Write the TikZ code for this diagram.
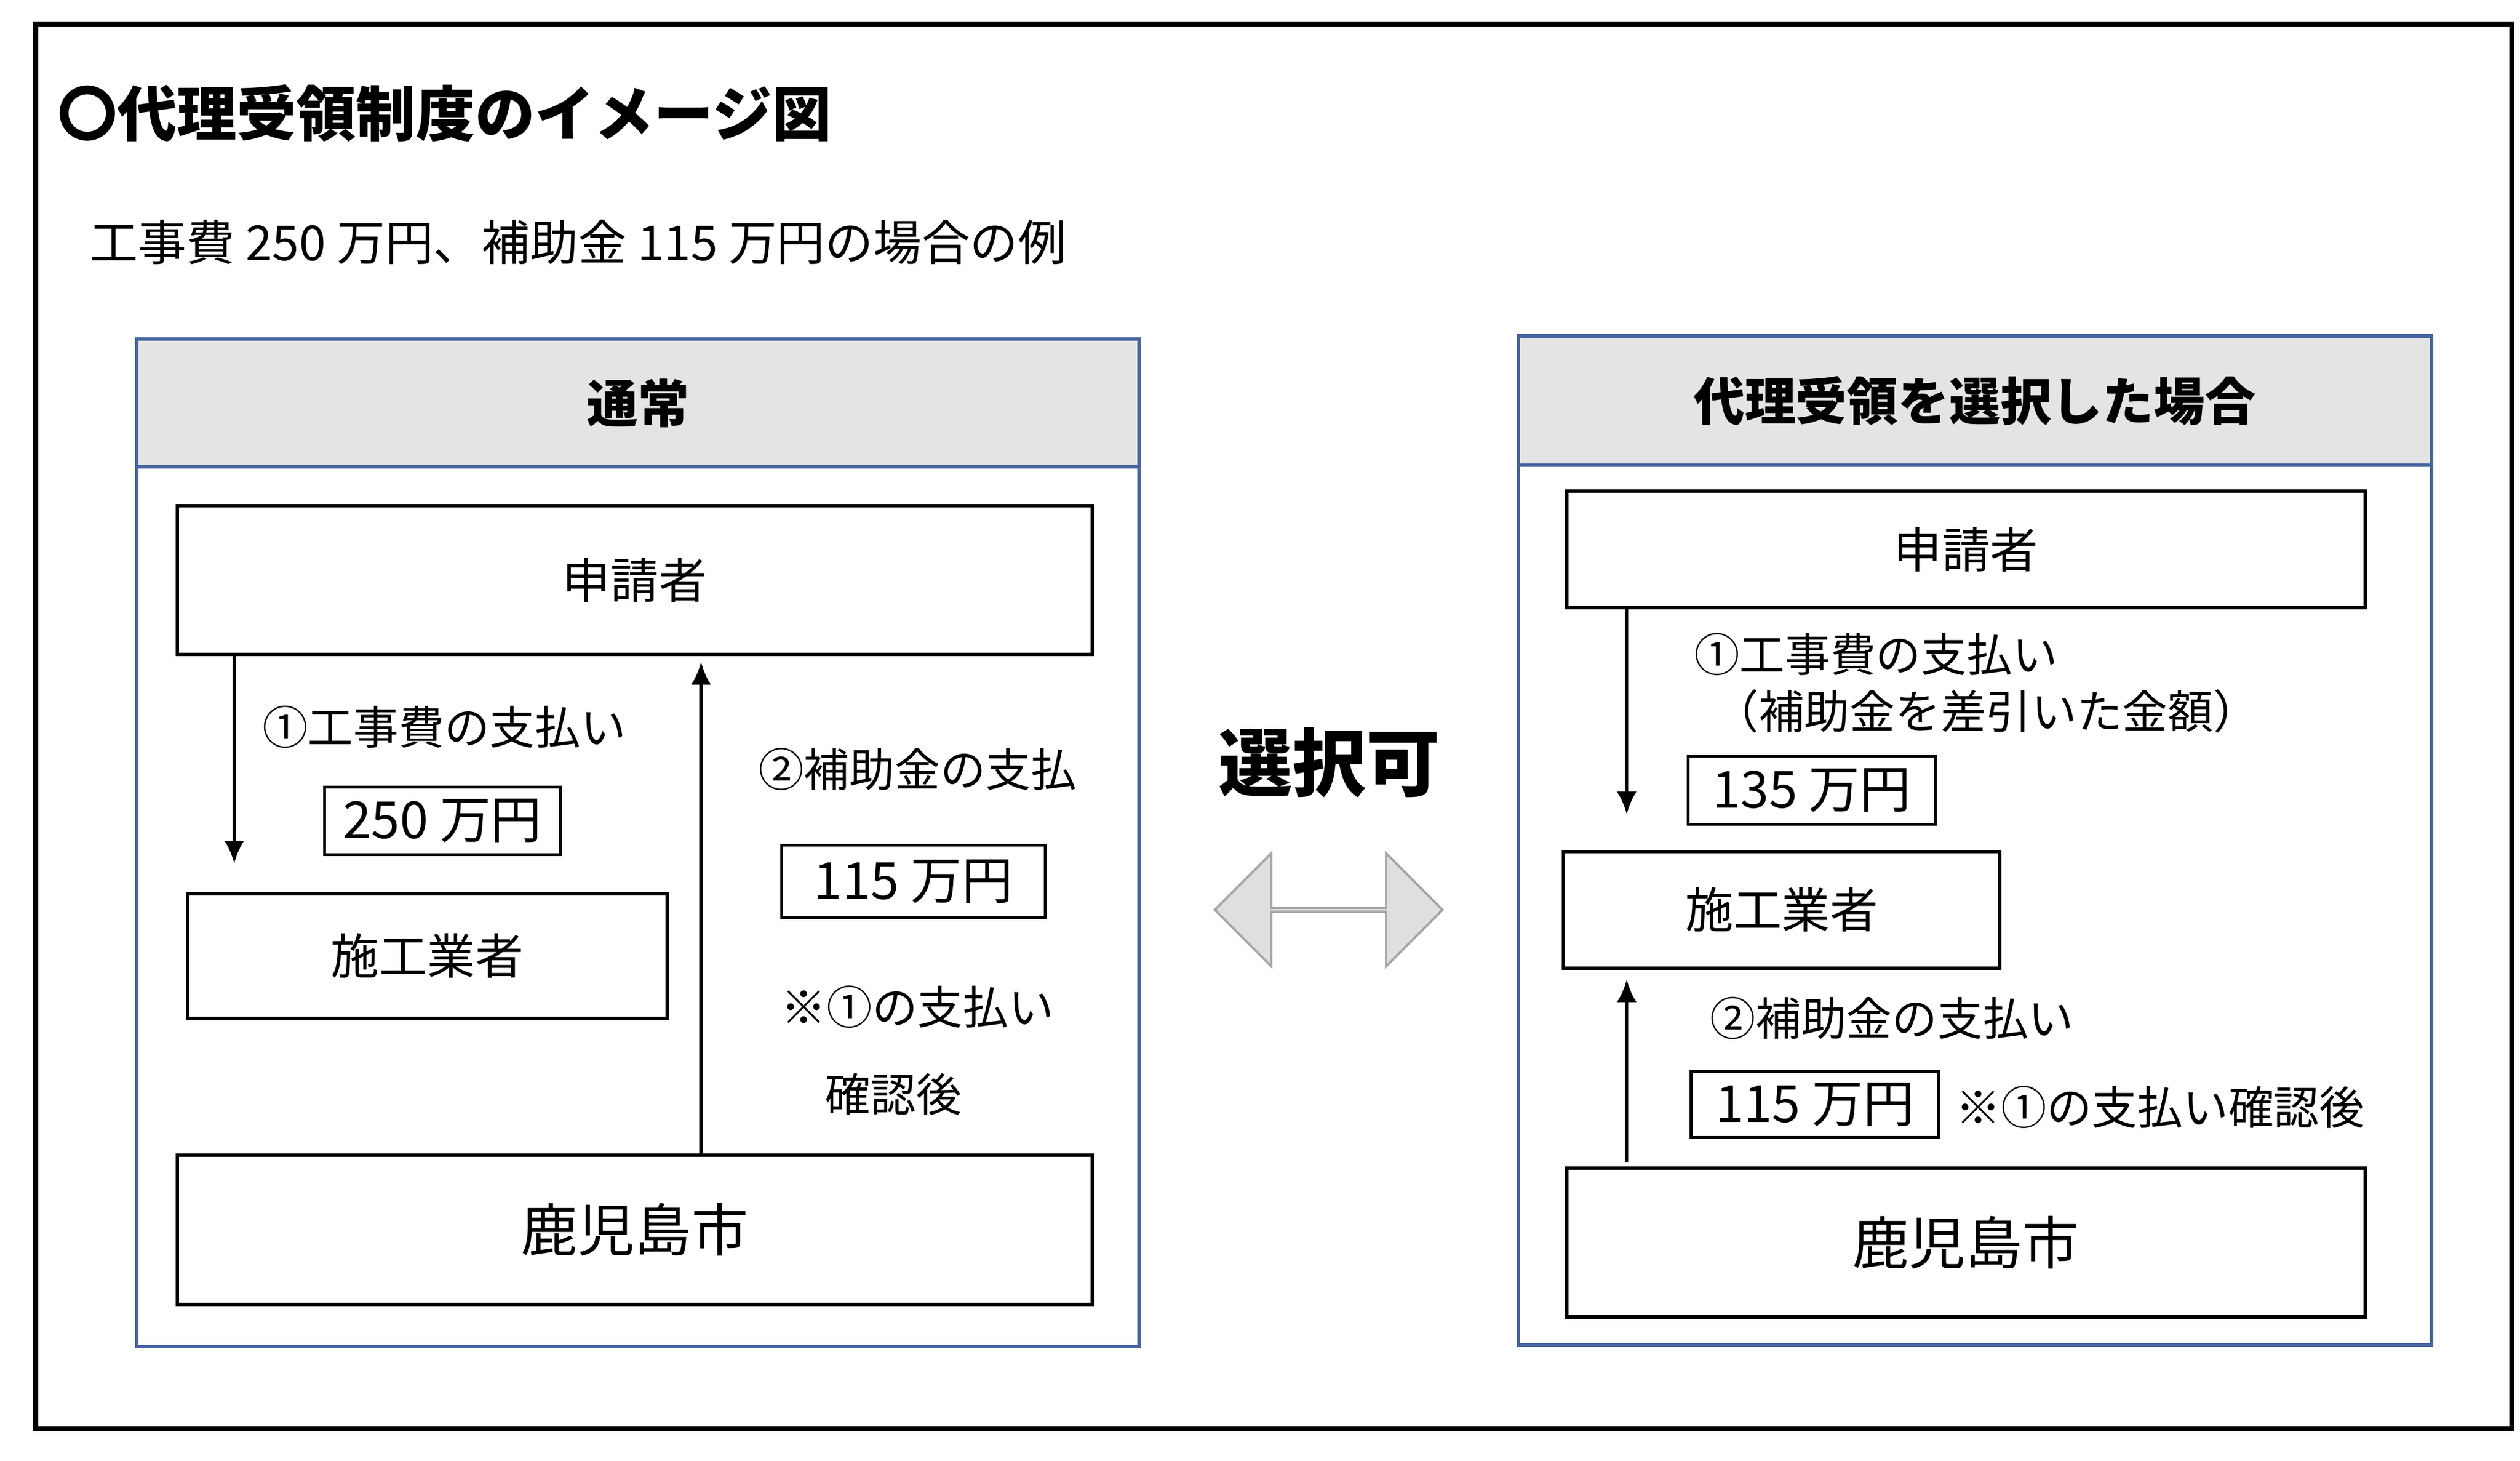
\documentclass[tikz,border=0pt]{standalone}
\usepackage{fontspec}
\setmainfont{Noto Sans CJK JP}
\usetikzlibrary{positioning, arrows.meta, shapes.arrows}
\definecolor{panelblue}{RGB}{70,100,160}
\definecolor{headgray}{RGB}{228,228,228}
\tikzset{
  txt/.style={font=\fontsize{8pt}{10pt}\selectfont, inner sep=0pt},
  box/.style={draw, line width=0.6pt, inner sep=0pt, font=\fontsize{8.5pt}{10pt}\selectfont},
  moneybox/.style={draw, line width=0.5pt, inner sep=0pt, font=\fontsize{9pt}{10pt}\selectfont},
  panel/.style={draw=panelblue, line width=0.6pt, inner sep=0pt},
  head/.style={draw=panelblue, fill=headgray, line width=0.6pt, inner sep=0pt, font=\bfseries\fontsize{9pt}{10pt}\selectfont},
  flow/.style={line width=0.6pt, -{Latex[length=4pt,width=3.5pt]}},
}
\begin{document}
\begin{tikzpicture}[x=0.01cm, y=-0.01cm]
\useasboundingbox (0,0) rectangle (1560,904);
\draw[line width=0.9pt] (22,15) rectangle (1555,884);

\node[anchor=west, font=\bfseries\fontsize{10.5pt}{12pt}\selectfont, inner sep=0pt] at (35,70) (title) {〇代理受領制度のイメージ図};
\node[anchor=west, font=\fontsize{8.5pt}{10pt}\selectfont, inner sep=0pt] at (55,150) (subtitle) {工事費 250 万円、補助金 115 万円の場合の例};

% left: normal
\node[panel, minimum width=6.2cm, minimum height=6.23cm] at (395,521.5) (panel1) {};
\node[head, minimum width=6.2cm, minimum height=0.79cm] at (395,249.5) (head1) {通常};
\node[box, minimum width=5.66cm, minimum height=0.92cm] at (393,359) (shin1) {申請者};
\node[box, minimum width=2.97cm, minimum height=0.77cm] at (264.5,591.5) (sekou1) {施工業者};
\node[box, font=\fontsize{10pt}{11pt}\selectfont, minimum width=5.66cm, minimum height=0.92cm] at (393,761) (city1) {鹿児島市};

\coordinate (a1) at (145,0);
\coordinate (a2) at (434,0);
\draw[flow] (shin1.south -| a1) -- ([yshift=5pt]sekou1.north -| a1);
\draw[flow] (city1.north -| a2) -- ([yshift=-1pt]shin1.south -| a2);

\node[txt] at (275,450) (pay1) {①工事費の支払い};
\node[moneybox, minimum width=1.46cm, minimum height=0.42cm] at (274,508) (m250) {250 万円};
\node[txt] at (568,476) (sub1) {②補助金の支払};
\node[moneybox, minimum width=1.63cm, minimum height=0.45cm] at (565.5,545.5) (m115a) {115 万円};
\node[txt] at (568,623) (note1) {※①の支払い};
\node[txt] at (553,677) (note1b) {確認後};

% middle
\node[font=\bfseries\fontsize{13pt}{14pt}\selectfont, inner sep=0pt] at (823,472) (choice) {選択可};
\node[double arrow, draw=gray!70, fill=gray!25, line width=0.4pt, minimum width=0.7cm, double arrow head extend=0.2cm, minimum height=1.41cm, inner sep=0pt] at (822.5,563) (swap) {};

% right: proxy receipt
\node[panel, minimum width=5.65cm, minimum height=6.24cm] at (1222.5,520) (panel2) {};
\node[head, minimum width=5.65cm, minimum height=0.8cm] at (1222.5,248) (head2) {代理受領を選択した場合};
\node[box, minimum width=4.94cm, minimum height=0.72cm] at (1217,340) (shin2) {申請者};
\node[box, minimum width=2.7cm, minimum height=0.72cm] at (1103,563) (sekou2) {施工業者};
\node[box, font=\fontsize{10pt}{11pt}\selectfont, minimum width=4.94cm, minimum height=0.92cm] at (1217,769) (city2) {鹿児島市};

\coordinate (b1) at (1007,0);
\draw[flow] (shin2.south -| b1) -- ([yshift=0.22cm]sekou2.north -| b1);
\draw[flow] ([yshift=0.03cm]city2.north -| b1) -- ([yshift=-0.06cm]sekou2.south -| b1);

\node[txt, anchor=west] at (1048,405) (pay2) {①工事費の支払い};
\node[txt, anchor=west] at (1060,440) (pay2b) {（補助金を差引いた金額）};
\node[moneybox, minimum width=1.53cm, minimum height=0.42cm] at (1121.5,489) (m135) {135 万円};
\node[txt, anchor=west] at (1058,630) (sub2) {②補助金の支払い};
\node[moneybox, minimum width=1.53cm, minimum height=0.41cm] at (1123.5,683.5) (m115b) {115 万円};
\node[txt, anchor=west] at (1210,685) (note2) {※①の支払い確認後};
\end{tikzpicture}
\end{document}
